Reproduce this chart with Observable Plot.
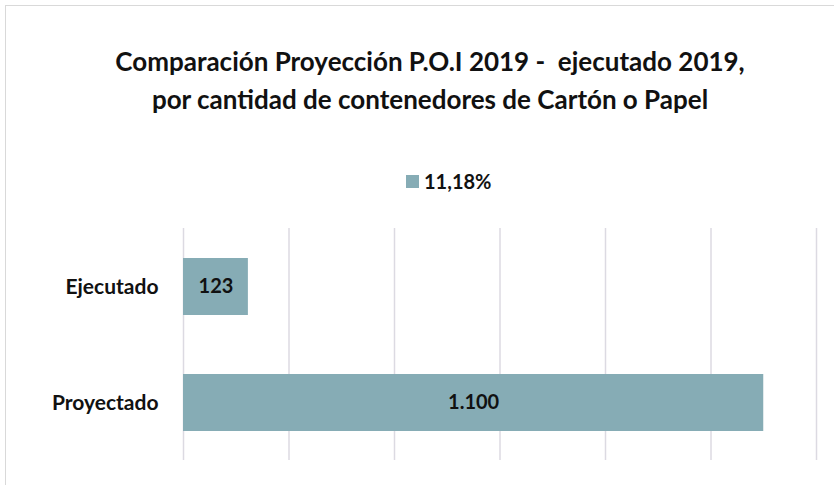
<!DOCTYPE html>
<html>
<head>
<meta charset="utf-8">
<script src="https://cdn.jsdelivr.net/npm/d3@7"></script>
<script src="https://cdn.jsdelivr.net/npm/@observablehq/plot@0.6"></script>
<style>
  html, body { margin: 0; padding: 0; background: #fff; }
  #frame { position: absolute; left: 5px; top: 5px; width: 840px; height: 490px; border: 1px solid #d9d9d9; box-sizing: border-box; }
  #title { position: absolute; left: 0; top: 42px; width: 860px; text-align: center; font-family: Lato, sans-serif; font-weight: bold; font-size: 26px; line-height: 38px; color: #111; }
  #legend { position: absolute; left: 406px; top: 169px; font-family: Lato, sans-serif; font-weight: bold; font-size: 20px; color: #111; display: flex; align-items: center; }
  #legend .sw { width: 13px; height: 13px; background: #86acb5; margin-right: 5px; }
  #chart { position: absolute; left: 0; top: 200px; }
</style>
</head>
<body>
<div id="frame"></div>
<div id="title">Comparación Proyección P.O.I 2019 -&nbsp; ejecutado 2019,<br>por cantidad de contenedores de Cartón o Papel</div>
<div id="legend"></div>
<div id="chart"></div>
<script>
const categories = ["Ejecutado", "Proyectado"];
const values = [123, 1100];
const valueLabels = ["123", "1.100"];
const seriesName = "11,18%";
const gridTicks = [0, 200, 400, 600, 800, 1000, 1200];

const data = categories.map((c, i) => ({cat: c, value: values[i], label: valueLabels[i]}));

document.getElementById("legend").innerHTML = '<div class="sw"></div><span>' + seriesName + '</span>';

const chart = Plot.plot({
  width: 834,
  height: 285,
  marginLeft: 183,
  marginRight: 18,
  marginTop: 28,
  marginBottom: 25,
  style: { fontFamily: "Lato, sans-serif", background: "transparent" },
  x: { domain: [0, 1200], axis: null },
  y: { domain: categories, paddingInner: 0.51, paddingOuter: 0.25, label: null },
  marks: [
    Plot.ruleX(gridTicks, { stroke: "#dcdae2", strokeWidth: 1.5 }),
    Plot.barX(data, { x: "value", y: "cat", fill: "#86acb5" }),
    Plot.text(data, { x: d => d.value / 2, y: "cat", text: "label", fontSize: 20, fontWeight: "bold", fill: "#111" }),
    Plot.axisY({ tickSize: 0, tickPadding: 25, fontSize: 21, fontWeight: "bold", color: "#111", label: null })
  ]
});
document.getElementById("chart").appendChild(chart);
</script>
</body>
</html>
